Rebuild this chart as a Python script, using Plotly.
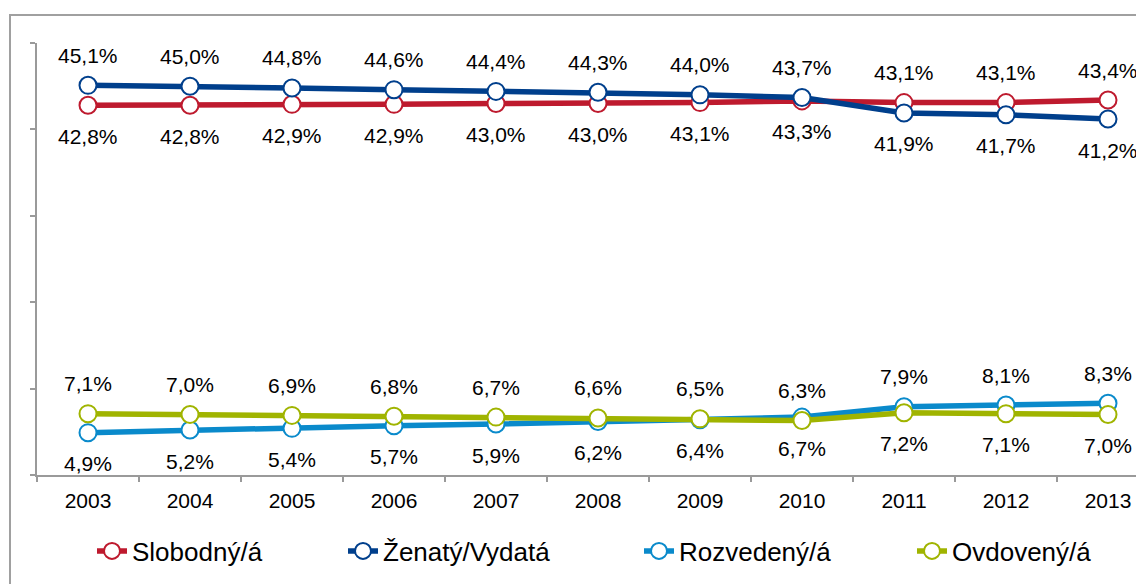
import plotly.graph_objects as go

years = ["2003", "2004", "2005", "2006", "2007", "2008", "2009", "2010", "2011", "2012", "2013"]
slobodny = [42.8, 42.8, 42.9, 42.9, 43.0, 43.0, 43.1, 43.3, 43.1, 43.1, 43.4]
zenaty = [45.1, 45.0, 44.8, 44.6, 44.4, 44.3, 44.0, 43.7, 41.9, 41.7, 41.2]
rozvedeny = [4.9, 5.2, 5.4, 5.7, 5.9, 6.2, 6.4, 6.7, 7.9, 8.1, 8.3]
ovdoveny = [7.1, 7.0, 6.9, 6.8, 6.7, 6.6, 6.5, 6.3, 7.2, 7.1, 7.0]

series_names = ["Slobodný/á", "Ženatý/Vydatá", "Rozvedený/á", "Ovdovený/á"]
switch_year = "2011"  # data labels swap sides from this year on

FONT = "Arial, Liberation Sans, sans-serif"
colors = ["#BE1A2E", "#003F8C", "#0A8ACB", "#A0B400"]
first_side = [-1, +1, -1, +1]   # +1 label above, -1 below (before switch year)
legend_widths = [206, 251, 228, 180]

# the page is drawn with an 8px body margin: work in window coordinates
OFF = 8
W, H = 1144, 584
plot_left, plot_right = 37 - OFF, 1144 - OFF
plot_top, plot_bottom = 43 - OFF, 475 - OFF
pw = plot_right - plot_left
ph = plot_bottom - plot_top
cat_px = 102
xr_end = -0.5 + pw / cat_px

fig = go.Figure()
values = [slobodny, zenaty, rozvedeny, ovdoveny]
sw = years.index(switch_year)
annotations = []
for name, vals, col, side, lw in zip(series_names, values, colors, first_side, legend_widths):
    fig.add_trace(go.Scatter(
        x=years, y=vals, name=name, mode="lines+markers",
        line=dict(color=col, width=5.5),
        marker=dict(symbol="circle", size=17, color="white", line=dict(color=col, width=2)),
        legendwidth=lw,
    ))
    for i, v in enumerate(vals):
        s = side if i < sw else -side
        annotations.append(dict(
            x=i, y=v, xref="x", yref="y", text=f"{v:.1f}%".replace(".", ","),
            showarrow=False, yshift=(30 if s > 0 else -31), yanchor="middle", xanchor="center",
            font=dict(family=FONT, size=21, color="#000000"),
        ))

fig.update_layout(
    width=W, height=H,
    margin=dict(l=plot_left, r=W - plot_right, t=plot_top, b=H - plot_bottom, pad=0),
    paper_bgcolor="white", plot_bgcolor="white",
    font=dict(family=FONT, color="#000000"),
    showlegend=True,
    legend=dict(
        orientation="h", x=(92 - OFF - plot_left) / pw, xanchor="left",
        y=(plot_bottom - (551 - OFF)) / ph, yanchor="middle",
        font=dict(family=FONT, size=26, color="#000000"),
        bgcolor="rgba(0,0,0,0)", borderwidth=0,
    ),
    annotations=annotations,
    shapes=[dict(
        type="rect", xref="paper", yref="paper",
        x0=(10 - OFF - plot_left) / pw, x1=(1170 - OFF - plot_left) / pw,
        y0=(plot_bottom - 620) / ph, y1=1 + (plot_top - (15 - OFF)) / ph,
        line=dict(color="#A0A0A0", width=2), fillcolor="rgba(0,0,0,0)", layer="below",
    )],
)
fig.update_xaxes(
    type="category", range=[-0.5, xr_end], showgrid=False, zeroline=False,
    showline=True, linecolor="#9A9A9A", linewidth=1.5,
    ticks="outside", tickson="boundaries", ticklen=5, tickcolor="#9A9A9A", tickwidth=1.5,
    tickfont=dict(family=FONT, size=21, color="#000000"), ticklabelstandoff=6,
)
fig.update_yaxes(
    range=[0, 50], dtick=10, tick0=0, showgrid=False, zeroline=False,
    showline=True, linecolor="#9A9A9A", linewidth=1.5,
    ticks="outside", ticklen=5, tickcolor="#9A9A9A", tickwidth=1.5,
    showticklabels=False,
)
fig.write_html("out.html")
